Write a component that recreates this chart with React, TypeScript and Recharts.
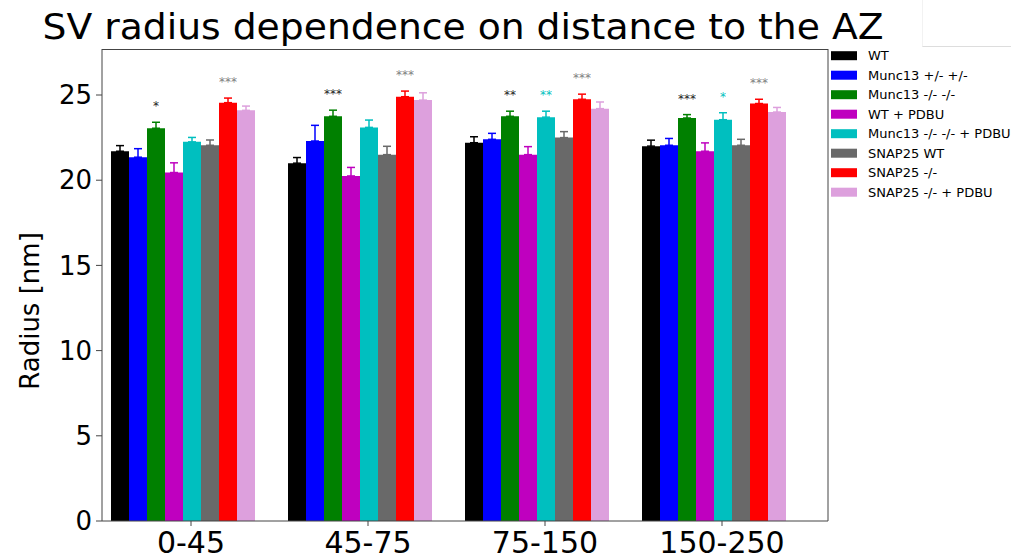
import React from "react";
import { BarChart, Bar, XAxis, YAxis, ErrorBar, LabelList, CartesianGrid } from "recharts";

// distance bins (nm)
const categories = ["0-45", "45-75", "75-150", "150-250"];

const wt = [21.7, 21.0, 22.2, 22.0];
const wtErr = [0.33, 0.33, 0.35, 0.35];
const muncHet = [21.35, 22.3, 22.4, 22.05];
const muncHetErr = [0.5, 0.92, 0.35, 0.4];
const muncKo = [23.05, 23.75, 23.75, 23.65];
const muncKoErr = [0.35, 0.36, 0.3, 0.2];
const wtPdbu = [20.45, 20.25, 21.5, 21.7];
const wtPdbuErr = [0.57, 0.5, 0.47, 0.49];
const muncKoPdbu = [22.25, 23.1, 23.7, 23.55];
const muncKoPdbuErr = [0.26, 0.43, 0.35, 0.41];
const snapWt = [22.05, 21.5, 22.5, 22.05];
const snapWtErr = [0.31, 0.49, 0.35, 0.35];
const snapKo = [24.55, 24.9, 24.75, 24.5];
const snapKoErr = [0.27, 0.33, 0.3, 0.25];
const snapKoPdbu = [24.1, 24.7, 24.2, 24.0];
const snapKoPdbuErr = [0.25, 0.43, 0.39, 0.27];

// significance marks
const muncKoStars = ["*", "***", "**", "***"];
const muncKoPdbuStars = ["", "", "**", "*"];
const snapKoStars = ["***", "***", "***", "***"];

const yTicks = [0, 5, 10, 15, 20, 25];

const series = [
  { name: "WT", color: "#000000", values: wt, errors: wtErr },
  { name: "Munc13 +/- +/-", color: "#0000ff", values: muncHet, errors: muncHetErr },
  { name: "Munc13 -/- -/-", color: "#008000", values: muncKo, errors: muncKoErr, stars: muncKoStars, starColor: "#222222" },
  { name: "WT + PDBU", color: "#bf00bf", values: wtPdbu, errors: wtPdbuErr },
  { name: "Munc13 -/- -/- + PDBU", color: "#00bfbf", values: muncKoPdbu, errors: muncKoPdbuErr, stars: muncKoPdbuStars, starColor: "#00bfbf" },
  { name: "SNAP25 WT", color: "#696969", values: snapWt, errors: snapWtErr },
  { name: "SNAP25 -/-", color: "#ff0000", values: snapKo, errors: snapKoErr, stars: snapKoStars, starColor: "#808080" },
  { name: "SNAP25 -/- + PDBU", color: "#dda0dd", values: snapKoPdbu, errors: snapKoPdbuErr },
];

const rows = categories.map((cat, i) => {
  const row: any = { cat };
  series.forEach((s, j) => {
    row["v" + j] = s.values[i];
    row["e" + j] = [0, s.errors[i]];
  });
  return row;
});

const FONT = "DejaVu Sans";

const starLabel = (s: any) => (p: any) => {
  const mark = s.stars?.[p.index];
  if (!mark) return null;
  const vb = p.viewBox || p;
  const x = vb.x ?? p.x;
  const y = vb.y ?? p.y;
  const w = vb.width ?? p.width;
  const h = vb.height ?? p.height;
  const v = s.values[p.index];
  const unit = h / v;
  const cy = y - (s.errors[p.index] + 1.05) * unit;
  return (
    <text
      x={x + w / 2}
      y={cy + 6}
      textAnchor="middle"
      fontSize={12}
      fontFamily={FONT}
      fill={s.starColor}
      opacity={0.99}
    >
      {mark}
    </text>
  );
};

const CatTick = (p: any) => {
  const x = p.x + 9.5;
  return (
    <g>
      <line x1={x} x2={x} y1={p.y} y2={p.y + 5} stroke="#444" />
      <text x={x} y={p.y + 32} textAnchor="middle" fontSize={30} fontFamily={FONT} fill="#000">
        {p.payload.value}
      </text>
    </g>
  );
};

export default function App() {
  return (
    <div style={{ position: "relative", width: 1011, height: 560, background: "#fff" }}>
      <style>{"body{margin:0}"}</style>
      <BarChart
        width={1011}
        height={560}
        data={rows}
        margin={{ top: 49, right: 183, bottom: 0, left: 0 }}
        barCategoryGap={18}
        barGap={0}
      >
        <CartesianGrid
          stroke="#444"
          strokeDasharray=""
          horizontalCoordinatesGenerator={({ offset }: any) => [offset.top + 0.5]}
          verticalCoordinatesGenerator={({ offset }: any) => [offset.left + offset.width]}
        />
        <XAxis
          dataKey="cat"
          height={39}
          padding={{ left: -9, right: 27 }}
          tickLine={false}
          tickSize={0}
          tickMargin={0}
          axisLine={{ stroke: "#444" }}
          tick={<CatTick />}
          interval={0}
        />
        <YAxis
          domain={[0, 27.7]}
          ticks={yTicks}
          width={102}
          tickSize={6}
          tickMargin={4}
          axisLine={{ stroke: "#444" }}
          tickLine={{ stroke: "#444" }}
          tick={{ fontSize: 26, fill: "#000", fontFamily: FONT }}
          allowDataOverflow
        />
        {series.map((s, j) => (
          <Bar key={s.name} dataKey={"v" + j} name={s.name} fill={s.color} isAnimationActive={false}>
            <ErrorBar dataKey={"e" + j} width={4} strokeWidth={1.5} stroke={s.color} direction="y" />
            {s.stars ? <LabelList dataKey={"v" + j} content={starLabel(s)} /> : null}
          </Bar>
        ))}
      </BarChart>
      <svg width={1011} height={560} style={{ position: "absolute", left: 0, top: 0, pointerEvents: "none" }}>
        <text
          x={463}
          y={39}
          textAnchor="middle"
          fontSize={35}
          fontFamily={FONT}
          fill="#000"
          textLength={841}
          lengthAdjust="spacingAndGlyphs"
        >
          SV radius dependence on distance to the AZ
        </text>
        <text x={39} y={311} transform="rotate(-90 39 311)" textAnchor="middle" fontSize={26} fontFamily={FONT} fill="#000">
          Radius [nm]
        </text>
        <line x1={922} x2={1011} y1={46.5} y2={46.5} stroke="#dddddd" />
        <line x1={922.5} x2={922.5} y1={0} y2={46.5} stroke="#f2f2f2" />
        {series.map((s, i) => {
          const cy = 55.7 + 19.5 * i;
          return (
            <g key={s.name}>
              <rect x={831} y={cy - 4.5} width={26} height={9} fill={s.color} />
              <text x={868} y={cy + 4.5} fontSize={13} fontFamily={FONT} fill="#000">
                {s.name}
              </text>
            </g>
          );
        })}
      </svg>
    </div>
  );
}
